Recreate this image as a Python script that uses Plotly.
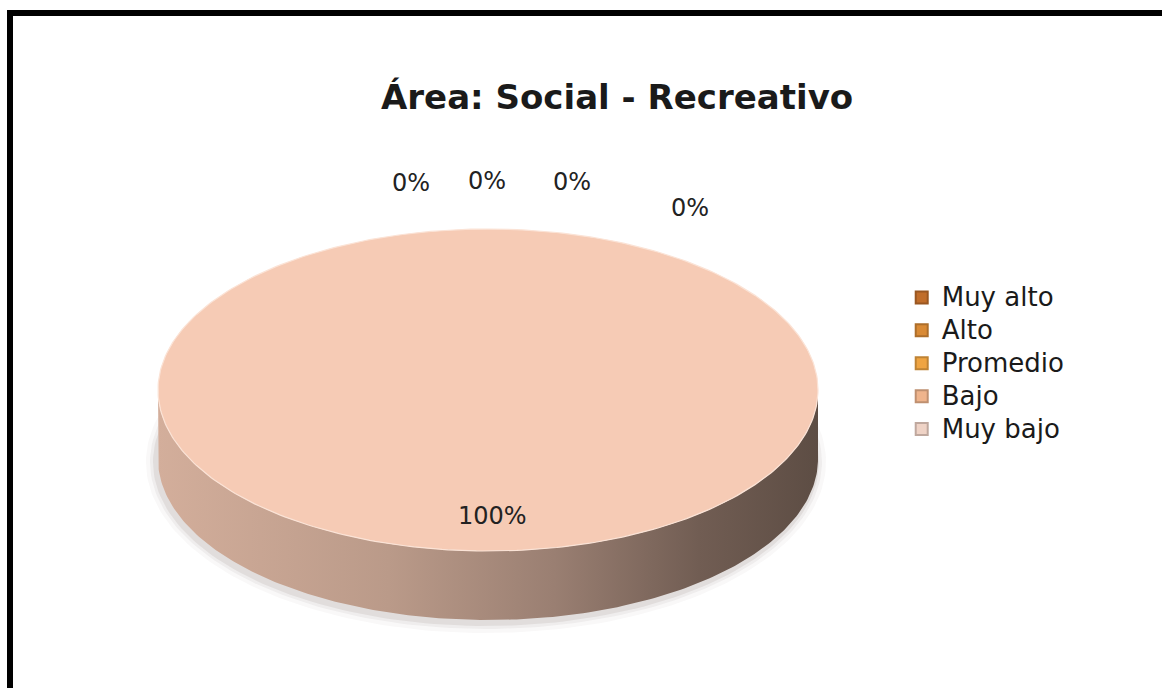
import numpy as np
import plotly.graph_objects as go

# Data
categories = ["Muy alto", "Alto", "Promedio", "Bajo", "Muy bajo"]
values = [0, 0, 0, 0, 100]
pct_labels = ["0%", "0%", "0%", "0%", "100%"]
slice_colors = ["#c4712c", "#d98a35", "#eea445", "#f0b78e", "#f6cbb5"]
legend_colors = ["#c06d2a", "#d98a35", "#efa442", "#efb48c", "#efd3c6"]

FONT = "'DejaVu Sans', Verdana, sans-serif"

# Geometry of the tilted pie (pixel-like units, y grows downward)
CX, CY, RX, RY, DEPTH = 488, 390, 330, 161, 69
LABEL_R_IN = 0.78
LABEL_R_OUT = 1.15
# offsets that spread the outside labels of tiny slices apart
outside_shift = [(-77, 22), (-1, 24), (84, 23), (202, -3)]


def hex_to_rgb(c):
    c = c.lstrip("#")
    return tuple(int(c[i:i + 2], 16) for i in (0, 2, 4))


def shade(c, f):
    r, g, b = hex_to_rgb(c)
    return "rgb(%d,%d,%d)" % (r * f, g * f, b * f)


def ellipse_pt(theta_deg, r=1.0, dy=0.0):
    t = np.radians(theta_deg)
    return CX + RX * r * np.sin(t), CY - RY * r * np.cos(t) + dy


fig = go.Figure()

total = float(sum(values))
fracs = [v / total for v in values]
starts = np.concatenate([[0.0], np.cumsum(fracs)[:-1]]) * 360.0
ends = np.cumsum(fracs) * 360.0

# soft shadow under the disc
for grow, alpha in [(10, 0.03), (6, 0.05), (3, 0.08)]:
    t = np.linspace(0, 360, 241)
    sx = CX - 2 + (RX + grow) * np.sin(np.radians(t))
    sy = CY + DEPTH + 3 - (RY + grow) * np.cos(np.radians(t))
    fig.add_trace(go.Scatter(x=sx, y=sy, mode="lines", fill="toself",
                             fillcolor="rgba(60,40,30,%.2f)" % alpha,
                             line=dict(width=0), hoverinfo="skip", showlegend=False))

# front side walls of each slice (visible between 90 and 270 degrees)
for a0, a1, col in zip(starts, ends, slice_colors):
    s, e = max(a0, 90.0), min(a1, 270.0)
    if e <= s:
        continue
    t = np.linspace(s, e, 200)
    tx, ty = ellipse_pt(t)
    bx, by = ellipse_pt(t[::-1], dy=DEPTH)
    xs = np.concatenate([tx, bx])
    ys = np.concatenate([ty, by])
    fig.add_trace(go.Scatter(
        x=xs, y=ys, mode="lines", fill="toself", line=dict(width=0),
        fillgradient=dict(type="horizontal", colorscale=[
            [0.0, shade(col, 0.86)], [0.35, shade(col, 0.76)],
            [0.6, shade(col, 0.63)], [0.82, shade(col, 0.46)],
            [1.0, shade(col, 0.38)]]),
        hoverinfo="skip", showlegend=False))

# top faces of the slices
for a0, a1, col in zip(starts, ends, slice_colors):
    if a1 - a0 <= 0:
        continue
    n = max(int((a1 - a0) / 1.5), 2)
    t = np.linspace(a0, a1, n)
    ax, ay = ellipse_pt(t)
    if a1 - a0 < 360:
        ax = np.concatenate([[CX], ax, [CX]])
        ay = np.concatenate([[CY], ay, [CY]])
    fig.add_trace(go.Scatter(x=ax, y=ay, mode="lines", fill="toself",
                             fillcolor=col, line=dict(width=0),
                             hoverinfo="skip", showlegend=False))

# rim highlight on the top face
t = np.linspace(0, 360, 361)
rx_, ry_ = ellipse_pt(t)
fig.add_trace(go.Scatter(x=rx_, y=ry_, mode="lines",
                         line=dict(width=1.2, color="#fbe3d6"),
                         hoverinfo="skip", showlegend=False))

# percentage labels
annotations = []
k = 0
for a0, a1, lab in zip(starts, ends, pct_labels):
    mid = (a0 + a1) / 2.0
    if a1 - a0 > 30:
        px, py = ellipse_pt(mid, r=LABEL_R_IN)
        sx, sy = 4, 0
    else:
        px, py = ellipse_pt(mid, r=LABEL_R_OUT)
        sx, sy = outside_shift[k]
        k += 1
    annotations.append(dict(x=px, y=py, xref="x", yref="y", text=lab,
                            showarrow=False, xshift=sx, yshift=sy,
                            xanchor="center", yanchor="middle",
                            font=dict(family=FONT, size=24, color="#222222")))

# legend entries
for name, col in zip(categories, legend_colors):
    fig.add_trace(go.Scatter(x=[None], y=[None], mode="markers",
                             name='<span style="font-size:26px">%s</span>' % name,
                             marker=dict(symbol="square", size=15, color=col,
                                         line=dict(width=1, color=shade(col, 0.8)))))

annotations.append(dict(x=617 / 1162, y=1 - 97 / 688, xref="paper", yref="paper",
                        xanchor="center", yanchor="middle",
                        text="<b>Área: Social - Recreativo</b>", showarrow=False,
                        font=dict(family=FONT, size=34, color="#1a1a1a")))

fig.update_layout(
    width=1162, height=688,
    margin=dict(l=0, r=0, t=0, b=0),
    paper_bgcolor="white", plot_bgcolor="white",
    xaxis=dict(range=[0, 1162], visible=False, fixedrange=True),
    yaxis=dict(range=[688, 0], visible=False, fixedrange=True),
    showlegend=True,
    legend=dict(x=0.776, y=1 - 276 / 688, xanchor="left", yanchor="top",
                font=dict(family=FONT, size=23, color="#1a1a1a"),
                bgcolor="rgba(0,0,0,0)", itemsizing="constant",
                tracegroupgap=0),
    annotations=annotations,
    shapes=[dict(type="rect", xref="paper", yref="paper",
                 x0=10 / 1162, x1=1.1, y0=-0.1, y1=1 - 13 / 688,
                 line=dict(color="black", width=6))],
)

fig.write_html("out.html")
